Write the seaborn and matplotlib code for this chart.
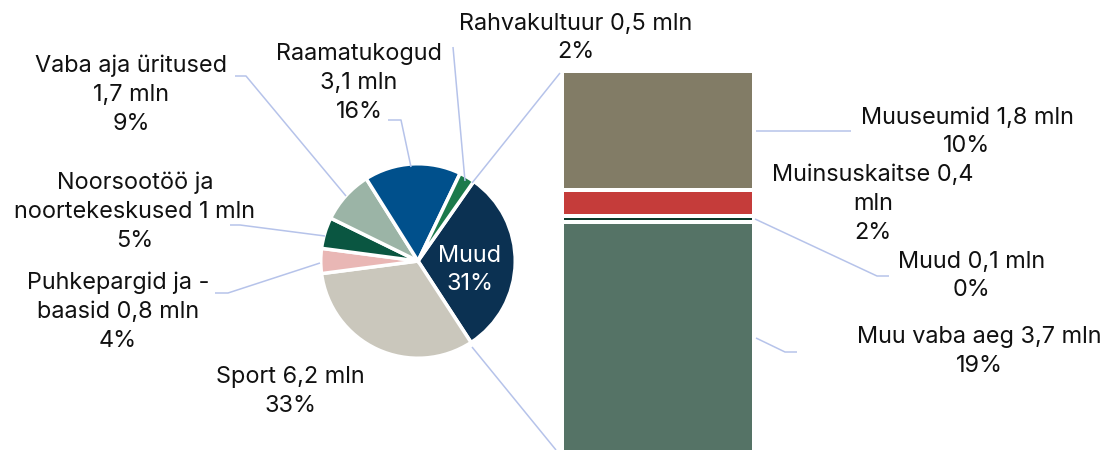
import matplotlib
matplotlib.use("Agg")
import matplotlib.pyplot as plt
import seaborn as sns
import pandas as pd
import numpy as np

# ---------------- data ----------------
pie_names = ["Muud", "Sport", "Puhkepargid ja -baasid", "Noorsootöö ja noortekeskused",
             "Vaba aja üritused", "Raamatukogud", "Rahvakultuur"]
pie_values = [6.0, 6.2, 0.8, 1.0, 1.7, 3.1, 0.5]
pie_texts = ["Muud\n31%", "Sport 6,2 mln\n33%", "Puhkepargid ja -\nbaasid 0,8 mln\n4%",
             "Noorsootöö ja\nnoortekeskused 1 mln\n5%", "Vaba aja üritused\n1,7 mln\n9%",
             "Raamatukogud\n3,1 mln\n16%", "Rahvakultuur 0,5 mln\n2%"]
pie_colors = ["#0b3152", "#cac7bc", "#e9b7b5", "#0a5641", "#9bb4a6", "#00508c", "#1c7a4b"]

bar_names = ["Muu vaba aeg", "Muud", "Muinsuskaitse", "Muuseumid"]   # bottom -> top
bar_values = [3.7, 0.1, 0.4, 1.8]
bar_texts = ["Muu vaba aeg 3,7 mln\n19%", "Muud 0,1 mln\n0%", "Muinsuskaitse 0,4\nmln\n2%",
             "Muuseumid 1,8 mln\n10%"]
bar_colors = ["#557366", "#0b3b2c", "#c53c3a", "#827c66"]

# ---------------- layout ----------------
W, H = 1108, 450
LINE = "#b6c3ea"
FS = 16.9

sns.set_theme(style="white")
plt.rcParams["font.family"] = ["Inter", "DejaVu Sans"]

fig = plt.figure(figsize=(W / 100, H / 100), dpi=100)
fig.patch.set_facecolor("white")


def box(x, y, w, h):
    return [x / W, 1 - (y + h) / H, w / W, h / H]


# pie
pie_lw = 3.5
cx, cy, r_vis = 418, 261, 95.5
r_px = r_vis + pie_lw / 2
axp = fig.add_axes(box(cx - r_px, cy - r_px, 2 * r_px, 2 * r_px))
axp.pie(pie_values, colors=pie_colors, startangle=55, counterclock=False, radius=1,
        wedgeprops=dict(edgecolor="white", linewidth=pie_lw * 0.72))
axp.set_xlim(-1, 1)
axp.set_ylim(-1, 1)
axp.set_aspect("equal")
axp.axis("off")

# stacked bar (drawn as overlapping cumulative bars)
bar_lw = 4.0
px_per_unit = 65.5
total = sum(bar_values)
bx0, bx1, btop = 564, 752, 73
axb = fig.add_axes(box(bx0 - bar_lw / 2, btop - bar_lw / 2, (bx1 - bx0) + bar_lw,
                       total * px_per_unit + bar_lw / 2))
cum = np.cumsum(bar_values)
for i in range(len(bar_values) - 1, -1, -1):
    df = pd.DataFrame({"grp": ["Muud"], "val": [cum[i]]})
    sns.barplot(data=df, x="grp", y="val", color=bar_colors[i], saturation=1, width=1.0,
                edgecolor="white", linewidth=bar_lw * 0.72, ax=axb, errorbar=None)
axb.set_xlim(-0.5, 0.5)
axb.set_ylim(0, total)
axb.axis("off")

# overlay for labels and leader lines (pixel coordinates)
axo = fig.add_axes([0, 0, 1, 1], zorder=10)
axo.set_xlim(0, W)
axo.set_ylim(H, 0)
axo.axis("off")
axo.patch.set_alpha(0)


def lab(x, yc, text, color="#111111", spacing=29):
    lines = text.split("\n")
    n = len(lines)
    for k, t in enumerate(lines):
        y = yc + (k - (n - 1) / 2) * spacing
        axo.text(x, y, t, ha="center", va="center", fontsize=FS, color=color)


def leader(pts):
    xs, ys = zip(*pts)
    axo.plot(xs, ys, color=LINE, lw=1.1, solid_capstyle="butt")


# pie labels
pie_pos = [(470, 270), (290, 392), (118, 312), (135, 212), (131, 95), (359, 83), (576, 38)]
for i, (t, (x, y)) in enumerate(zip(pie_texts, pie_pos)):
    lab(x, y, t, color="white" if i == 0 else "#111111")

leader([(453, 47), (465, 181)])
leader([(388, 120), (401, 120), (411, 167)])
leader([(235, 76), (246, 76), (346, 196)])
leader([(230, 225), (240, 225), (325, 236)])
leader([(215, 293), (228, 293), (320, 263)])

# connectors pie -> bar
leader([(472, 183), (560, 73)])
leader([(472, 347), (556, 450)])

# bar labels
bar_pos = [(979, 351), (972, 276), (873, 204), (967, 132)]
for t, (x, y) in zip(bar_texts, bar_pos):
    lab(x, y, t)

leader([(756, 131), (851, 131)])
leader([(755, 219), (877, 276), (889, 276)])
leader([(756, 338), (785, 352), (797, 352)])

fig.savefig("out.png", dpi=100, facecolor="white")
